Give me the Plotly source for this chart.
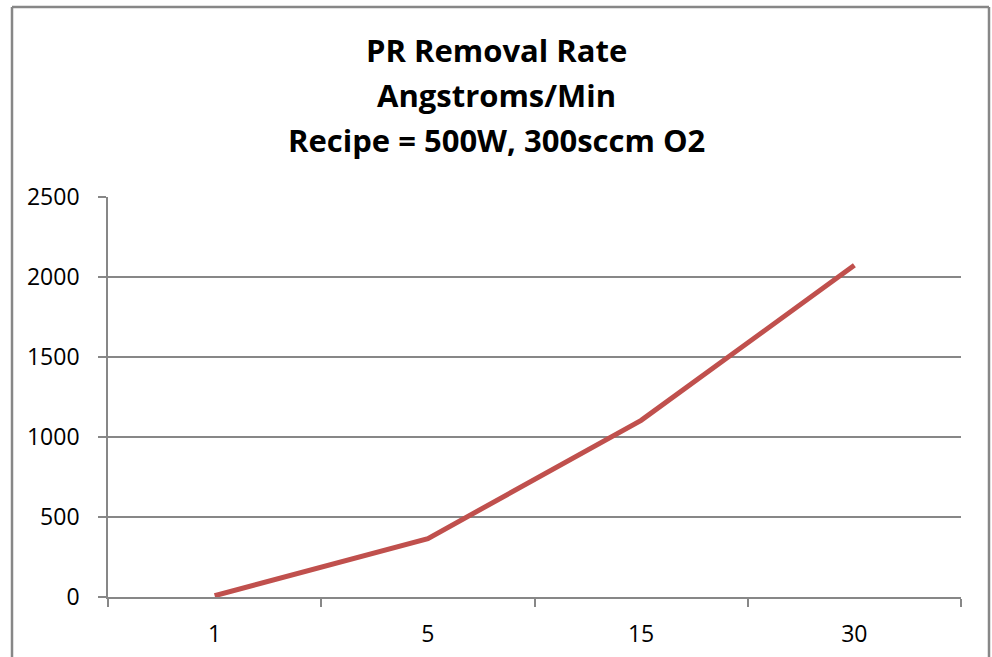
import plotly.graph_objects as go

categories = ["1", "5", "15", "30"]
removal_rate = [8, 365, 1104, 2073]
y_ticks = [0, 500, 1000, 1500, 2000, 2500]
title_lines = ["PR Removal Rate", "Angstroms/Min", "Recipe = 500W, 300sccm O2"]

W, H = 992, 657
L, R, T, B = 108, 961, 197, 597
pw, ph = R - L, B - T
title_centers_px = [50, 95, 140]

fig = go.Figure()
fig.add_trace(go.Scatter(
    x=categories, y=removal_rate, mode="lines",
    line=dict(color="#C0504D", width=5),
    hoverinfo="x+y", showlegend=False,
))

annotations = [
    dict(text=f"<b>{t}</b>", x=(496 - L) / pw, y=(B - yp) / ph,
         xref="paper", yref="paper", xanchor="center", yanchor="middle",
         showarrow=False, font=dict(family="Open Sans", size=31, color="black"))
    for t, yp in zip(title_lines, title_centers_px)
]

border = dict(color="#878787", width=2.5)
x_left, x_right = (12 - L) / pw, (989 - L) / pw
y_top, y_bot = (B - 7) / ph, (B - 700) / ph
shapes = [
    dict(type="line", xref="paper", yref="paper", x0=x_left, x1=x_right, y0=y_top, y1=y_top, line=border),
    dict(type="line", xref="paper", yref="paper", x0=x_left, x1=x_left, y0=y_top, y1=y_bot, line=border),
    dict(type="line", xref="paper", yref="paper", x0=x_right, x1=x_right, y0=y_top, y1=y_bot, line=border),
]

fig.update_layout(
    width=W, height=H,
    margin=dict(l=L, r=W - R, t=T, b=H - B, autoexpand=False),
    paper_bgcolor="white", plot_bgcolor="white",
    font=dict(family="Open Sans", color="black"),
    annotations=annotations,
    shapes=shapes,
    xaxis=dict(
        type="category", range=[-0.5, 3.5], automargin=False,
        tickson="boundaries", ticks="outside", ticklen=8, tickwidth=1.7,
        tickcolor="#878787", showline=True, linecolor="#878787", linewidth=1.7,
        showgrid=False, tickfont=dict(size=23, color="black"),
        ticklabelstandoff=16, zeroline=False,
    ),
    yaxis=dict(
        range=[0, 2500], tickvals=y_ticks, ticks="outside", ticklen=8,
        automargin=False,
        tickwidth=1.7, tickcolor="#878787", showline=True, linecolor="#878787",
        linewidth=1.7, showgrid=True, gridcolor="#878787", gridwidth=1.7,
        zeroline=False, tickfont=dict(size=23, color="black"),
        ticklabelstandoff=14,
    ),
)

fig.write_html(
    "out.html",
    config={"displayModeBar": False},
    post_script="document.body.style.margin='0';document.body.style.overflow='hidden';",
)
